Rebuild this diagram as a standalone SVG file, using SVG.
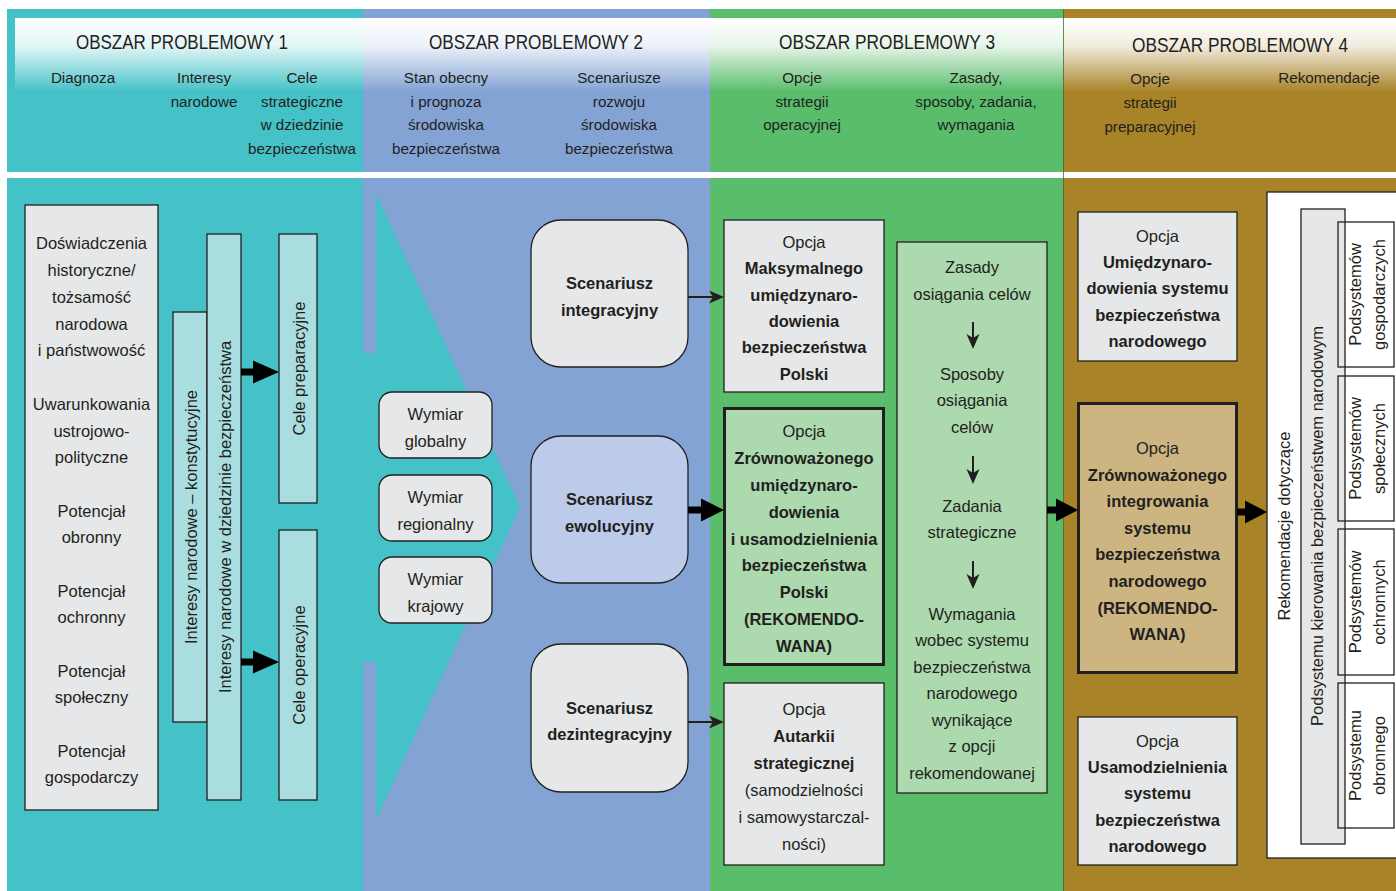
<svg xmlns="http://www.w3.org/2000/svg" width="1396" height="891" viewBox="0 0 1396 891">
<style>
.t{font-family:"Liberation Sans",Arial,sans-serif;font-size:16.5px;fill:#231f20;text-anchor:middle}
.b{font-weight:bold}
.h{font-size:15.2px}
.ttl{font-size:20px}
.bx{stroke:#231f20;stroke-width:1.3}
.thk{stroke:#231f20;stroke-width:3}
.grey{fill:#e6e7e8}
.lteal{fill:#a9dde0}
.lgreen{fill:#acd9ad}
.tan{fill:#cdb582}
.lblue{fill:#bccbea}
.ln{stroke:#231f20;stroke-width:2;fill:none}
.ar{fill:#000}
</style>
<defs>
<linearGradient id="fade" x1="0" y1="0" x2="0" y2="1">
<stop offset="0" stop-color="#fff" stop-opacity="1"/>
<stop offset="0.18" stop-color="#fff" stop-opacity="0.85"/>
<stop offset="0.48" stop-color="#fff" stop-opacity="0"/>
</linearGradient>
<marker id="ah" markerUnits="userSpaceOnUse" markerWidth="16" markerHeight="14" refX="11" refY="6.5" orient="auto">
<path d="M0,0 L15,6.5 L0,13 L4,6.5 Z" fill="#231f20"/>
</marker>
</defs>

<g id="background">
<rect x="0" y="0" width="1396" height="891" fill="#fff"/>
<rect x="7" y="9" width="356" height="163" fill="#44c2c7"/>
<rect x="363" y="9" width="347" height="163" fill="#83a3d4"/>
<rect x="710" y="9" width="353" height="163" fill="#5abd6c"/>
<rect x="1063" y="9" width="333" height="163" fill="#a88328"/>
<rect x="15" y="18" width="1381" height="154" fill="url(#fade)"/>
<rect x="7" y="178" width="356" height="713" fill="#44c2c7"/>
<rect x="363" y="178" width="347" height="713" fill="#83a3d4"/>
<rect x="710" y="178" width="353" height="713" fill="#5abd6c"/>
<rect x="1063" y="178" width="333" height="713" fill="#a88328"/>
<line x1="1063.5" y1="9" x2="1063.5" y2="891" stroke="#4a6a2a" stroke-width="0.8"/>
<polygon points="362,353 376,353 376,193 520,507 376,820 376,662 362,662" fill="#44c2c7"/>
</g>

<g id="headers">
<text class="t ttl" x="182" y="49.3" textLength="212" lengthAdjust="spacingAndGlyphs">OBSZAR PROBLEMOWY 1</text>
<text class="t ttl" x="536" y="49.3" textLength="214" lengthAdjust="spacingAndGlyphs">OBSZAR PROBLEMOWY 2</text>
<text class="t ttl" x="887" y="49" textLength="216" lengthAdjust="spacingAndGlyphs">OBSZAR PROBLEMOWY 3</text>
<text class="t ttl" x="1240" y="52.3" textLength="216" lengthAdjust="spacingAndGlyphs">OBSZAR PROBLEMOWY 4</text>
<text class="t h" x="83" y="82.7">Diagnoza</text>
<text class="t h"><tspan x="204" y="82.7">Interesy</tspan><tspan x="204" y="106.5">narodowe</tspan></text>
<text class="t h"><tspan x="302" y="82.7">Cele</tspan><tspan x="302" y="106.5">strategiczne</tspan><tspan x="302" y="130.3">w dziedzinie</tspan><tspan x="302" y="154">bezpieczeństwa</tspan></text>
<text class="t h"><tspan x="446" y="82.7">Stan obecny</tspan><tspan x="446" y="106.5">i prognoza</tspan><tspan x="446" y="130.3">środowiska</tspan><tspan x="446" y="154">bezpieczeństwa</tspan></text>
<text class="t h"><tspan x="619" y="82.7">Scenariusze</tspan><tspan x="619" y="106.5">rozwoju</tspan><tspan x="619" y="130.3">środowiska</tspan><tspan x="619" y="154">bezpieczeństwa</tspan></text>
<text class="t h"><tspan x="802" y="82.7">Opcje</tspan><tspan x="802" y="106.5">strategii</tspan><tspan x="802" y="130.3">operacyjnej</tspan></text>
<text class="t h"><tspan x="976" y="82.7">Zasady,</tspan><tspan x="976" y="106.5">sposoby, zadania,</tspan><tspan x="976" y="130.3">wymagania</tspan></text>
<text class="t h"><tspan x="1150" y="83.5">Opcje</tspan><tspan x="1150" y="107.5">strategii</tspan><tspan x="1150" y="131.5">preparacyjnej</tspan></text>
<text class="t h" x="1329" y="82.7">Rekomendacje</text>
</g>

<g id="diagnoza">
<rect class="bx grey" x="25" y="205" width="133" height="605"/>
<text class="t"><tspan x="91.5" y="249">Doświadczenia</tspan><tspan x="91.5" y="276">historyczne/</tspan><tspan x="91.5" y="302.5">tożsamość</tspan><tspan x="91.5" y="329.5">narodowa</tspan><tspan x="91.5" y="356">i państwowość</tspan><tspan x="91.5" y="410">Uwarunkowania</tspan><tspan x="91.5" y="436.5">ustrojowo-</tspan><tspan x="91.5" y="463">polityczne</tspan><tspan x="91.5" y="516.5">Potencjał</tspan><tspan x="91.5" y="543">obronny</tspan><tspan x="91.5" y="596.5">Potencjał</tspan><tspan x="91.5" y="623">ochronny</tspan><tspan x="91.5" y="676.5">Potencjał</tspan><tspan x="91.5" y="703">społeczny</tspan><tspan x="91.5" y="756.5">Potencjał</tspan><tspan x="91.5" y="783">gospodarczy</tspan></text>
</g>

<g id="interesy-konstytucyjne">
<rect class="bx lteal" x="173" y="312" width="34" height="410"/>
<text class="t" transform="translate(191,517) rotate(-90)" dy="0.35em">Interesy narodowe – konstytucyjne</text>
</g>
<g id="interesy-bezpieczenstwo">
<rect class="bx lteal" x="207" y="234" width="34" height="566"/>
<text class="t" transform="translate(225,517) rotate(-90)" dy="0.35em">Interesy narodowe w dziedzinie bezpieczeństwa</text>
</g>
<g id="cele-preparacyjne">
<rect class="bx lteal" x="279" y="234" width="38" height="269"/>
<text class="t" transform="translate(299,368.5) rotate(-90)" dy="0.35em">Cele preparacyjne</text>
</g>
<g id="cele-operacyjne">
<rect class="bx lteal" x="279" y="530" width="38" height="270"/>
<text class="t" transform="translate(299,665) rotate(-90)" dy="0.35em">Cele operacyjne</text>
</g>

<g id="wymiar-globalny">
<rect class="bx grey" x="379" y="392" width="113" height="66" rx="13"/>
<text class="t"><tspan x="435.5" y="420">Wymiar</tspan><tspan x="435.5" y="446.5">globalny</tspan></text>
</g>
<g id="wymiar-regionalny">
<rect class="bx grey" x="379" y="475" width="113" height="66" rx="13"/>
<text class="t"><tspan x="435.5" y="503">Wymiar</tspan><tspan x="435.5" y="529.5">regionalny</tspan></text>
</g>
<g id="wymiar-krajowy">
<rect class="bx grey" x="379" y="557" width="113" height="66" rx="13"/>
<text class="t"><tspan x="435.5" y="585">Wymiar</tspan><tspan x="435.5" y="611.5">krajowy</tspan></text>
</g>

<g id="scenariusz-integracyjny">
<rect class="bx grey" x="531" y="220" width="157" height="147" rx="30"/>
<text class="t b"><tspan x="609.5" y="289">Scenariusz</tspan><tspan x="609.5" y="315.5">integracyjny</tspan></text>
</g>
<g id="scenariusz-ewolucyjny">
<rect class="bx lblue" x="531" y="436" width="157" height="147" rx="30"/>
<text class="t b"><tspan x="609.5" y="505">Scenariusz</tspan><tspan x="609.5" y="531.5">ewolucyjny</tspan></text>
</g>
<g id="scenariusz-dezintegracyjny">
<rect class="bx grey" x="531" y="644" width="157" height="148" rx="30"/>
<text class="t b"><tspan x="609.5" y="713.5">Scenariusz</tspan><tspan x="609.5" y="740">dezintegracyjny</tspan></text>
</g>

<g id="opcja-maksymalnego">
<rect class="bx grey" x="724" y="220" width="160" height="172"/>
<text class="t"><tspan x="804" y="248">Opcja</tspan><tspan class="b" x="804" y="274.3">Maksymalnego</tspan><tspan class="b" x="804" y="300.6">umiędzynaro-</tspan><tspan class="b" x="804" y="326.9">dowienia</tspan><tspan class="b" x="804" y="353.2">bezpieczeństwa</tspan><tspan class="b" x="804" y="379.5">Polski</tspan></text>
</g>
<g id="opcja-zrownowazonego-umiedzynarodowienia">
<rect class="thk lgreen" x="724.5" y="408.5" width="159" height="256"/>
<text class="t"><tspan x="804" y="437.3">Opcja</tspan><tspan class="b" x="804" y="464.1">Zrównoważonego</tspan><tspan class="b" x="804" y="490.9">umiędzynaro-</tspan><tspan class="b" x="804" y="517.7">dowienia</tspan><tspan class="b" x="804" y="544.5">i usamodzielnienia</tspan><tspan class="b" x="804" y="571.3">bezpieczeństwa</tspan><tspan class="b" x="804" y="598.1">Polski</tspan><tspan class="b" x="804" y="624.9">(REKOMENDO-</tspan><tspan class="b" x="804" y="651.7">WANA)</tspan></text>
</g>
<g id="opcja-autarkii">
<rect class="bx grey" x="724" y="683" width="160" height="182"/>
<text class="t"><tspan x="804" y="715">Opcja</tspan><tspan class="b" x="804" y="742">Autarkii</tspan><tspan class="b" x="804" y="769">strategicznej</tspan><tspan x="804" y="796">(samodzielności</tspan><tspan x="804" y="823">i samowystarczal-</tspan><tspan x="804" y="850">ności)</tspan></text>
</g>

<g id="zasady">
<rect class="bx lgreen" x="897" y="242" width="150" height="551"/>
<text class="t"><tspan x="972" y="273">Zasady</tspan><tspan x="972" y="299.5">osiągania celów</tspan><tspan x="972" y="379.5">Sposoby</tspan><tspan x="972" y="406">osiągania</tspan><tspan x="972" y="432.5">celów</tspan><tspan x="972" y="511.5">Zadania</tspan><tspan x="972" y="538">strategiczne</tspan><tspan x="972" y="619.5">Wymagania</tspan><tspan x="972" y="646">wobec systemu</tspan><tspan x="972" y="672.5">bezpieczeństwa</tspan><tspan x="972" y="699">narodowego</tspan><tspan x="972" y="725.5">wynikające</tspan><tspan x="972" y="752">z opcji</tspan><tspan x="972" y="778.5">rekomendowanej</tspan></text>
</g>

<g id="opcja-umiedzynarodowienia">
<rect class="bx grey" x="1078" y="212" width="159" height="149"/>
<text class="t"><tspan x="1157.5" y="241.7">Opcja</tspan><tspan class="b" x="1157.5" y="268">Umiędzynaro-</tspan><tspan class="b" x="1157.5" y="294.2">dowienia systemu</tspan><tspan class="b" x="1157.5" y="320.5">bezpieczeństwa</tspan><tspan class="b" x="1157.5" y="346.7">narodowego</tspan></text>
</g>
<g id="opcja-zrownowazonego-integrowania">
<rect class="thk tan" x="1078.5" y="403.5" width="158" height="269"/>
<text class="t"><tspan x="1157.5" y="454">Opcja</tspan><tspan class="b" x="1157.5" y="480.6">Zrównoważonego</tspan><tspan class="b" x="1157.5" y="507.2">integrowania</tspan><tspan class="b" x="1157.5" y="533.8">systemu</tspan><tspan class="b" x="1157.5" y="560.4">bezpieczeństwa</tspan><tspan class="b" x="1157.5" y="587">narodowego</tspan><tspan class="b" x="1157.5" y="613.6">(REKOMENDO-</tspan><tspan class="b" x="1157.5" y="640.2">WANA)</tspan></text>
</g>
<g id="opcja-usamodzielnienia">
<rect class="bx grey" x="1078" y="717" width="159" height="148"/>
<text class="t"><tspan x="1157.5" y="746.7">Opcja</tspan><tspan class="b" x="1157.5" y="773">Usamodzielnienia</tspan><tspan class="b" x="1157.5" y="799.2">systemu</tspan><tspan class="b" x="1157.5" y="825.5">bezpieczeństwa</tspan><tspan class="b" x="1157.5" y="851.7">narodowego</tspan></text>
</g>

<g id="rekomendacje">
<rect class="bx" x="1267" y="192" width="140" height="666" fill="#fff"/>
<text class="t" transform="translate(1284,526) rotate(-90)" dy="0.35em">Rekomendacje dotyczące</text>
</g>
<g id="podsystem-kierowania">
<rect class="bx grey" x="1301" y="209" width="44" height="635"/>
<text class="t" transform="translate(1317,526) rotate(-90)" dy="0.35em">Podsystemu kierowania bezpieczeństwem narodowym</text>
</g>
<g id="podsystemy-gospodarcze">
<rect class="bx" x="1338" y="222" width="56" height="145" fill="none"/>
<text class="t" transform="translate(1355,294.5) rotate(-90)" dy="0.35em">Podsystemów</text>
<text class="t" transform="translate(1379,294.5) rotate(-90)" dy="0.35em">gospodarczych</text>
</g>
<g id="podsystemy-spoleczne">
<rect class="bx" x="1338" y="376" width="56" height="145" fill="none"/>
<text class="t" transform="translate(1355,448.5) rotate(-90)" dy="0.35em">Podsystemów</text>
<text class="t" transform="translate(1379,448.5) rotate(-90)" dy="0.35em">społecznych</text>
</g>
<g id="podsystemy-ochronne">
<rect class="bx" x="1338" y="529" width="56" height="146" fill="none"/>
<text class="t" transform="translate(1355,602) rotate(-90)" dy="0.35em">Podsystemów</text>
<text class="t" transform="translate(1379,602) rotate(-90)" dy="0.35em">ochronnych</text>
</g>
<g id="podsystem-obronny">
<rect class="bx" x="1338" y="683" width="56" height="145" fill="none"/>
<text class="t" transform="translate(1355,755.5) rotate(-90)" dy="0.35em">Podsystemu</text>
<text class="t" transform="translate(1379,755.5) rotate(-90)" dy="0.35em">obronnego</text>
</g>

<g id="connectors">
<path class="ar" d="M241,368.5 H253 V360.5 L279,372 L253,383.5 V375.5 H241 Z"/>
<path class="ar" d="M241,658.5 H253 V650.5 L279,662 L253,673.5 V665.5 H241 Z"/>
<line class="ln" x1="688" y1="297" x2="720" y2="297" marker-end="url(#ah)"/>
<path class="ar" d="M688,506.5 H701 V498.5 L724,510 L701,521.5 V513.5 H688 Z"/>
<line class="ln" x1="688" y1="722" x2="720" y2="722" marker-end="url(#ah)"/>
<line class="ln" x1="973" y1="322" x2="973" y2="345" marker-end="url(#ah)"/>
<line class="ln" x1="973" y1="456" x2="973" y2="480" marker-end="url(#ah)"/>
<line class="ln" x1="973" y1="561" x2="973" y2="585" marker-end="url(#ah)"/>
<path class="ar" d="M1047,506.5 H1056 V498.5 L1078,510 L1056,521.5 V513.5 H1047 Z"/>
<path class="ar" d="M1237,508.5 H1245 V500.5 L1267,512 L1245,523.5 V515.5 H1237 Z"/>
</g>
</svg>
